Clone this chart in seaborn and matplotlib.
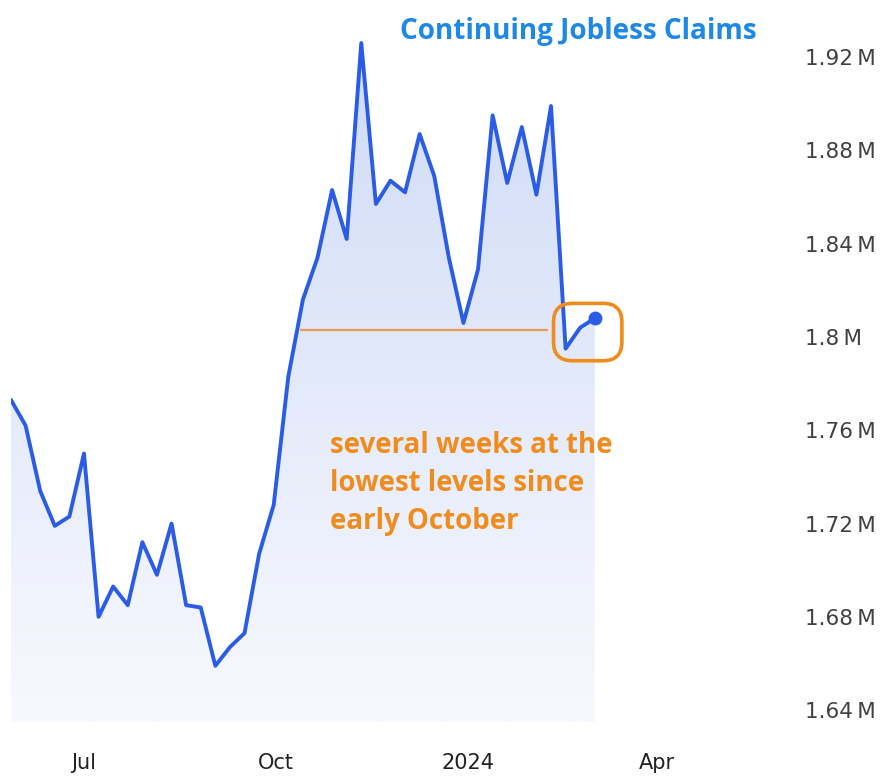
import numpy as np
import pandas as pd
import matplotlib
matplotlib.use("Agg")
import matplotlib.pyplot as plt
import matplotlib.dates as mdates
from matplotlib.patches import FancyBboxPatch
from matplotlib.colors import LinearSegmentedColormap
import seaborn as sns

# ---- data (weekly continuing jobless claims, millions) ----
week_ending = pd.date_range("2023-05-27", periods=41, freq="7D")
claims_m = [1.773, 1.762, 1.734, 1.719, 1.723, 1.750, 1.680, 1.693, 1.685, 1.712,
            1.698, 1.720, 1.685, 1.684, 1.659, 1.667, 1.673, 1.707, 1.728, 1.783,
            1.816, 1.834, 1.863, 1.842, 1.926, 1.857, 1.867, 1.862, 1.887, 1.869,
            1.834, 1.806, 1.829, 1.895, 1.866, 1.890, 1.861, 1.899, 1.795, 1.804,
            1.808]
y_ticks = [1.64, 1.68, 1.72, 1.76, 1.80, 1.84, 1.88, 1.92]
y_tick_labels = ["1.64\u2009M", "1.68\u2009M", "1.72\u2009M", "1.76\u2009M",
                 "1.8\u2009M", "1.84\u2009M", "1.88\u2009M", "1.92\u2009M"]
x_ticks = pd.to_datetime(["2023-07-01", "2023-10-01", "2024-01-01", "2024-04-01"])
x_tick_labels = ["Jul", "Oct", "2024", "Apr"]
ref_level = 1.803
ref_start, ref_end = pd.Timestamp("2023-10-13"), pd.Timestamp("2024-02-08")
title = "Continuing Jobless Claims"
note = "several weeks at the\nlowest levels since\nearly October"

df = pd.DataFrame({"date": week_ending, "claims": claims_m})

sns.set_style("white")
plt.rcParams["font.family"] = ["DejaVu Sans"]

W, H = 890, 779
fig = plt.figure(figsize=(W / 100, H / 100), dpi=100)
ax_left, ax_right, ax_top, ax_bot = 11, 790, 20, 722
ax = fig.add_axes([ax_left / W, 1 - ax_bot / H, (ax_right - ax_left) / W, (ax_bot - ax_top) / H])

line_color = "#2b5ce6"
orange = "#f08c1e"
px_per_day = 2.085

x0 = mdates.date2num(week_ending[0])
xr = x0 + (ax_right - ax_left) / px_per_day
ylo, yhi = 1.6349, 1.9359
ax.set_xlim(x0, xr)
ax.set_ylim(ylo, yhi)

# gradient area fill
xs = mdates.date2num(week_ending)
poly = ax.fill_between(xs, claims_m, ylo, color="none", lw=0)
cmap = LinearSegmentedColormap.from_list("g", ["#f8f9fe", "#cfdbf6"])
grad = np.linspace(0, 1, 256).reshape(-1, 1)
im = ax.imshow(grad, extent=[xs[0], xs[-1], ylo, max(claims_m)], origin="lower",
               aspect="auto", cmap=cmap, zorder=1)
path = poly.get_paths()[0]
im.set_clip_path(path, transform=ax.transData)

# reference line
ax.plot([mdates.date2num(ref_start), mdates.date2num(ref_end)], [ref_level, ref_level],
        color="#ec9a52", lw=1.6, zorder=2)

# main line
sns.lineplot(data=df, x="date", y="claims", ax=ax, color=line_color, lw=2.8, zorder=3)
ax.plot(xs[-1], claims_m[-1], "o", color=line_color, ms=9, zorder=4)
ax.set_xlim(x0, xr)
ax.set_ylim(ylo, yhi)

# rounded highlight box
bx0 = xs[-3] - 5.8
bx1 = xs[-1] + 13
by0 = min(claims_m[-3:]) - 0.0052
by1 = max(claims_m[-3:]) + 0.0064
asp = (1 / 2332.5) / (1 / px_per_day)
box = FancyBboxPatch((bx0, by0), bx1 - bx0, by1 - by0,
                     boxstyle="round,pad=0,rounding_size=9",
                     mutation_aspect=asp, fc="none", ec=orange, lw=2.6, zorder=5)
ax.add_patch(box)

# annotation
ax.text(mdates.date2num(pd.Timestamp("2023-10-27")), 1.7597, note, color=orange,
        fontsize=19.9, fontweight="bold", family=["Open Sans", "DejaVu Sans"],
        va="top", ha="left", linespacing=1.40, zorder=6)

# title
fig.text(578 / W, 1 - 31 / H, title, color="#1e88e5", fontsize=20.1, fontweight="bold",
         family=["Open Sans", "DejaVu Sans"], ha="center", va="center")

# axes styling
for s in ax.spines.values():
    s.set_visible(False)
ax.set_xlabel("")
ax.set_ylabel("")
ax.yaxis.tick_right()
ax.set_yticks(y_ticks)
ax.set_yticklabels(y_tick_labels, fontsize=15.5, color="#404040")
ax.tick_params(axis="y", length=0, pad=11)
for t in ax.get_yticklabels():
    t.set_horizontalalignment("left")
ax.set_xticks(mdates.date2num(x_ticks))
ax.set_xticklabels(x_tick_labels, fontsize=15, color="#222222")
ax.tick_params(axis="x", length=0, pad=22)
ax.grid(False)
ax.set_facecolor("white")

fig.savefig("out.png", dpi=100)
